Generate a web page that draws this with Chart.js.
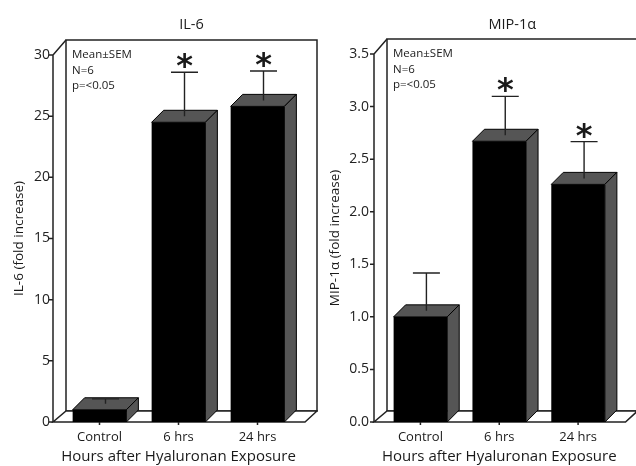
<!DOCTYPE html>
<html>
<head>
<meta charset="utf-8">
<script src="https://cdn.jsdelivr.net/npm/chart.js@4.4.0/dist/chart.umd.min.js"></script>
<style>
  html, body { margin: 0; padding: 0; background: #fff; }
  #wrap { position: relative; width: 636px; height: 466px; overflow: hidden; }
  .panel { position: absolute; top: 0; width: 318px; height: 466px; }
</style>
</head>
<body>
<div id="wrap">
  <div class="panel" style="left:0"><canvas id="il6" width="318" height="466"></canvas></div>
  <div class="panel" style="left:318px"><canvas id="mip" width="318" height="466"></canvas></div>
</div>
<script>
// data
const categories = ['Control', '6 hrs', '24 hrs'];

const il6Mean = [1.0, 24.5, 25.8];
const il6Sem = [0.4, 3.6, 2.4];
const il6Star = [false, true, true];

const mipMean = [1.0, 2.67, 2.26];
const mipSem = [0.36, 0.37, 0.35];
const mipStar = [false, true, true];

const noteLines = ['Mean±SEM', 'N=6', 'p=<0.05'];

const FONT = '"Open Sans", sans-serif';
const INK = '#1a1a1a';

// fake 3d: walls, floor, bar tops/sides, error bars, stars
const box3d = {
  id: 'box3d',
  beforeDatasetsDraw(chart, args, o) {
    const { ctx, chartArea: a, scales: { x, y } } = chart;
    const ax = a.left - o.padL, fr = a.right + o.padR;
    const top = a.top, bot = a.bottom;
    ctx.save();
    ctx.lineWidth = 1.5;
    ctx.strokeStyle = '#222';
    ctx.fillStyle = '#fff';
    // back wall
    ctx.beginPath();
    ctx.rect(ax + 13, top - 15, fr + 12 - (ax + 13), (bot - 11) - (top - 15));
    ctx.stroke();
    // floor
    ctx.beginPath();
    ctx.moveTo(ax, bot);
    ctx.lineTo(fr, bot);
    ctx.lineTo(fr + 12, bot - 11);
    ctx.lineTo(ax + 13, bot - 11);
    ctx.closePath();
    ctx.fill();
    ctx.stroke();
    // side wall edge + ticks
    ctx.beginPath();
    ctx.moveTo(ax, bot);
    ctx.lineTo(ax, top);
    ctx.lineTo(ax + 13, top - 15);
    y.ticks.forEach((t, i) => {
      const py = y.getPixelForTick(i);
      ctx.moveTo(ax - 4, py);
      ctx.lineTo(ax, py);
    });
    x.ticks.forEach((t, i) => {
      const px = x.getPixelForTick(i);
      ctx.moveTo(px, bot);
      ctx.lineTo(px, bot + 3);
    });
    ctx.stroke();

    // title + note
    ctx.fillStyle = INK;
    ctx.font = '14.5px ' + FONT;
    ctx.textAlign = 'center';
    ctx.textBaseline = 'middle';
    ctx.fillText(o.title, ((ax + 13) + (fr + 12)) / 2, 25);
    ctx.font = '11.5px ' + FONT;
    ctx.textAlign = 'left';
    noteLines.forEach((s, i) => ctx.fillText(s, ax + 19, top + i * 15.5));
    ctx.restore();
  },
  afterDatasetsDraw(chart, args, o) {
    const { ctx, scales: { y } } = chart;
    const meta = chart.getDatasetMeta(0);
    const d = 12;
    ctx.save();
    ctx.lineWidth = 1;
    ctx.strokeStyle = '#000';
    ctx.fillStyle = '#555';
    meta.data.forEach((bar, i) => {
      const l = bar.x - bar.width / 2, r = bar.x + bar.width / 2;
      const t = bar.y, b = bar.base;
      // top
      ctx.beginPath();
      ctx.moveTo(l, t); ctx.lineTo(r, t); ctx.lineTo(r + d, t - d); ctx.lineTo(l + d, t - d);
      ctx.closePath(); ctx.fill(); ctx.stroke();
      // side
      ctx.beginPath();
      ctx.moveTo(r, t); ctx.lineTo(r + d, t - d); ctx.lineTo(r + d, b - d); ctx.lineTo(r, b);
      ctx.closePath(); ctx.fill(); ctx.stroke();
    });
    // error bars
    ctx.strokeStyle = '#222';
    ctx.lineWidth = 1.4;
    meta.data.forEach((bar, i) => {
      const cx = bar.x + d / 2;
      const y0 = bar.y - d / 2;
      const y1 = y.getPixelForValue(o.mean[i] + o.sem[i]) - d / 2;
      ctx.beginPath();
      ctx.moveTo(cx, y0); ctx.lineTo(cx, y1);
      ctx.moveTo(cx - 13.5, y1); ctx.lineTo(cx + 13.5, y1);
      ctx.stroke();
      if (o.star[i]) {
        ctx.fillStyle = INK;
        ctx.font = 'bold 32px "DejaVu Sans", sans-serif';
        ctx.textAlign = 'center';
        ctx.textBaseline = 'alphabetic';
        ctx.fillText('*', cx, y1 + 4);
      }
    });
    ctx.restore();
  }
};

function makeChart(id, mean, sem, star, cfg) {
  return new Chart(document.getElementById(id), {
    type: 'bar',
    data: {
      labels: categories,
      datasets: [{
        data: mean,
        backgroundColor: '#000',
        borderColor: '#000',
        borderWidth: 0,
        barPercentage: 0.68,
        categoryPercentage: 1
      }]
    },
    options: {
      responsive: false,
      animation: false,
      layout: { padding: { top: cfg.top, right: cfg.right, left: 0, bottom: 0 } },
      scales: {
        x: {
          grid: { display: false, drawTicks: false },
          border: { display: false },
          ticks: { color: INK, font: { family: FONT, size: 13 }, padding: 7 },
          title: { display: true, text: 'Hours after Hyaluronan Exposure', color: INK,
                   font: { family: FONT, size: 15 }, padding: { top: 0, bottom: 0 } },
          afterFit(s) { s.height = 44; }
        },
        y: {
          min: 0, max: cfg.max,
          grid: { display: false, drawTicks: false },
          border: { display: false },
          ticks: { stepSize: cfg.step, color: '#222', font: { family: FONT, size: 14 },
                   padding: cfg.tickPad,
                   callback: v => v.toFixed(cfg.dec) },
          title: { display: true, text: cfg.yTitle, color: INK,
                   font: { family: FONT, size: 13.5 }, padding: { top: cfg.titlePad, bottom: 0 } },
          afterFit(s) { s.width = cfg.yWidth; }
        }
      },
      plugins: {
        legend: { display: false },
        tooltip: { enabled: false },
        box3d: { padL: 7, padR: 8, title: cfg.title, mean: mean, sem: sem, star: star }
      }
    },
    plugins: [box3d]
  });
}

makeChart('il6', il6Mean, il6Sem, il6Star, {
  top: 55, right: 21, yWidth: 60, max: 30, step: 5, dec: 0, tickPad: 10, titlePad: 11,
  yTitle: 'IL-6 (fold increase)', title: 'IL-6'
});
makeChart('mip', mipMean, mipSem, mipStar, {
  top: 54, right: 18.5, yWidth: 63, max: 3.5, step: 0.5, dec: 1, tickPad: 12, titlePad: 9,
  yTitle: 'MIP-1α (fold increase)', title: 'MIP-1α'
});
</script>
</body>
</html>
